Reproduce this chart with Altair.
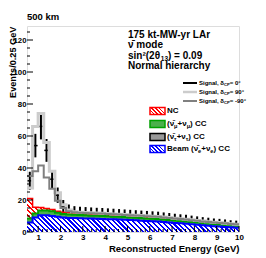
import math
import altair as alt
import pandas as pd

# ---------------- data ----------------
EDGES = [0.5 + 0.25 * i for i in range(39)]

beam_e = [6, 9, 10.5, 10.5, 10, 9.5, 9, 8.8, 8.7, 8.6, 8.5, 8.4, 8.3, 8.2, 8.0,
          7.9, 7.8, 7.6, 7.5, 7.3, 7.1, 6.9, 6.7, 6.5, 6.2, 6.0, 5.7, 5.4, 5.1, 4.8,
          4.5, 4.2, 3.9, 3.6, 3.4, 3.1, 2.9, 2.7]
tau_cc = [0, 0, 0, 0, 0, 0, 0.1, 0.1, 0.2, 0.2, 0.3, 0.3, 0.3, 0.4, 0.4, 0.4, 0.4,
          0.4, 0.4, 0.4, 0.4, 0.4, 0.4, 0.4, 0.4, 0.4, 0.35, 0.35, 0.35, 0.3, 0.3,
          0.3, 0.3, 0.25, 0.25, 0.25, 0.2, 0.2]
mu_cc = [2.5, 2.5, 3.0, 3.0, 3.0, 2.5, 2.2, 2.1, 1.9, 1.8, 1.6, 1.5, 1.5, 1.4, 1.4,
         1.3, 1.3, 1.3, 1.2, 1.2, 1.2, 1.2, 1.2, 1.2, 1.2, 1.1, 1.1, 1.1, 1.1, 1.1,
         1.1, 1.0, 1.0, 1.0, 1.0, 1.0, 1.0, 1.0]
nc = [12.5, 4.0, 1.8, 1.2, 1.0, 1.0, 1.0, 1.0, 1.0, 0.9, 0.9, 0.9, 0.9, 0.9, 0.9,
      0.9, 0.8, 0.8, 0.8, 0.8, 0.8, 0.8, 0.8, 0.8, 0.7, 0.7, 0.7, 0.7, 0.7, 0.7,
      0.6, 0.6, 0.6, 0.6, 0.6, 0.6, 0.5, 0.5]
sig_0 = [32, 54, 66, 51, 33, 23, 16, 13.5, 12.6, 12.3, 12.1, 11.9, 11.7, 11.6, 11.4,
         11.2, 11.0, 10.8, 10.6, 10.4, 10.2, 10.0, 9.8, 9.6, 9.2, 8.9, 8.5, 8.2, 7.9,
         7.5, 7.1, 6.7, 6.4, 6.0, 5.8, 5.5, 5.1, 4.9]
sig_p90 = [27.5, 66, 74, 56, 38, 24.5, 17, 13.8, 12.7, 12.4, 12.2, 12.0, 11.8, 11.7,
           11.5, 11.3, 11.1, 10.9, 10.7, 10.5, 10.3, 10.1, 9.9, 9.7, 9.3, 9.0, 8.6,
           8.3, 8.0, 7.6, 7.2, 6.8, 6.4, 6.1, 5.9, 5.5, 5.2, 4.9]
sig_m90 = [35, 38, 41.5, 34, 27, 19.5, 15, 13, 12.4, 12.1, 11.9, 11.7, 11.6, 11.5,
           11.3, 11.1, 10.9, 10.7, 10.5, 10.3, 10.1, 9.9, 9.7, 9.5, 9.1, 8.8, 8.4,
           8.1, 7.8, 7.4, 7.0, 6.6, 6.3, 5.9, 5.7, 5.4, 5.0, 4.8]

X_TICKS = list(range(1, 11))
Y_TICKS = [0, 20, 40, 60, 80, 100, 120]

# ---------------- geometry / style ----------------
W, H = 212, 206
YMAX = 128.75
YS = H / YMAX
FONT = "Liberation Sans"

nb = len(beam_e)
b1 = [beam_e[i] for i in range(nb)]
b2 = [b1[i] + tau_cc[i] for i in range(nb)]
b3 = [b2[i] + mu_cc[i] for i in range(nb)]
b4 = [b3[i] + nc[i] for i in range(nb)]

bins = pd.DataFrame({
    "lo": EDGES[:-1], "hi": EDGES[1:],
    "c": [(EDGES[i] + EDGES[i + 1]) / 2 for i in range(nb)],
    "n": sig_0,
    "elo": [v - math.sqrt(v) for v in sig_0],
    "ehi": [v + math.sqrt(v) for v in sig_0],
    "tl": [(EDGES[i] + EDGES[i + 1]) / 2 - 0.1 for i in range(nb)],
    "tr": [(EDGES[i] + EDGES[i + 1]) / 2 + 0.1 for i in range(nb)],
})

def ext(a):
    return list(a) + [a[-1]]

step = pd.DataFrame({
    "E": EDGES, "zero": [0.0] * 39,
    "b1": ext(b1), "b2": ext(b2), "b3": ext(b3), "b4": ext(b4),
    "p90": ext(sig_p90), "m90": ext(sig_m90),
})

xs = alt.Scale(domain=[0.5, 10], nice=False, zero=False)
ysc = alt.Scale(domain=[0, YMAX], nice=False, zero=True)

xaxis = alt.Axis(values=X_TICKS, grid=False, domain=False, ticks=False,
                 labelFont=FONT, labelFontWeight="bold", labelFontSize=8,
                 labelColor="black", labelPadding=1.5, labelFlush=False,
                 title="Reconstructed Energy (GeV)", titleFont=FONT,
                 titleFontWeight="bold", titleFontSize=9.6, titleColor="black",
                 titleAlign="right", titleAnchor="end", titleX=W, titleY=16,
                 titleBaseline="middle")
yaxis = alt.Axis(values=Y_TICKS, grid=False, domain=False, ticks=False,
                 labelFont=FONT, labelFontWeight="bold", labelFontSize=7.8,
                 labelColor="black", labelPadding=1, labelFlush=False,
                 title="Events/0.25 GeV", titleFont=FONT, titleFontWeight="bold",
                 titleFontSize=9.2, titleColor="black", titleAngle=-90,
                 titleAlign="right", titleBaseline="top", titleX=-19, titleY=0)

def X(f):
    return alt.X(f + ":Q", scale=xs, axis=xaxis)

def Y(f):
    return alt.Y(f + ":Q", scale=ysc, axis=yaxis)


def hatch(line, bg, wpx, hpx, period, frac):
    r = hpx / wpx
    dt = period * math.sqrt(2) / (wpx * (1 + r * r))
    stops = []
    k = 0
    while k * dt < 1:
        o0 = k * dt
        o1 = min(o0 + frac * dt, 1)
        o2 = min(o0 + dt, 1)
        stops += [(o0, line), (o1, line), (o1, bg), (o2, bg)]
        k += 1
    return {"gradient": "linear", "x1": 0, "y1": 1, "x2": 1, "y2": 1 - r,
            "stops": [{"offset": round(o, 5), "color": c} for o, c in stops]}

layers = []

# black signal points with errors (drawn first)
layers.append(alt.Chart(bins).mark_rule(color="black", strokeWidth=2).encode(
    x=X("c"), y=Y("elo"), y2="ehi"))
layers.append(alt.Chart(bins).mark_rule(color="black", strokeWidth=1.5).encode(
    x=X("tl"), x2="tr", y=Y("n")))

# stacked backgrounds
BLUE, RED, GREEN = "#0000ff", "#ff0000", "#00a000"
hb = max(b1) * YS
hr = (max(b4) - min(b3)) * YS
layers.append(alt.Chart(step).mark_area(
    interpolate="step-after", fill=hatch(RED, "white", W, hr, 3.6, 0.35)).encode(
    x=X("E"), y=Y("b4"), y2="b3"))
layers.append(alt.Chart(step).mark_area(
    interpolate="step-after", fill="#4cb04c").encode(
    x=X("E"), y=Y("b3"), y2="b2"))
layers.append(alt.Chart(step).mark_area(
    interpolate="step-after", fill="#999999").encode(
    x=X("E"), y=Y("b2"), y2="b1"))
layers.append(alt.Chart(step).mark_area(
    interpolate="step-after", fill=hatch(BLUE, "white", W, hb, 3.4, 0.45)).encode(
    x=X("E"), y=Y("b1"), y2="zero"))
for col, colr, sw in [("b4", RED, 1.5), ("b3", GREEN, 2), ("b1", BLUE, 2)]:
    layers.append(alt.Chart(step).mark_line(
        interpolate="step-after", color=colr, strokeWidth=sw).encode(
        x=X("E"), y=Y(col)))

# signal histograms
layers.append(alt.Chart(step).mark_line(
    interpolate="step-after", color="#cccccc", strokeWidth=3).encode(
    x=X("E"), y=Y("p90")))
layers.append(alt.Chart(step).mark_line(
    interpolate="step-after", color="#808080", strokeWidth=2).encode(
    x=X("E"), y=Y("m90")))

# inward ticks
xmaj = pd.DataFrame({"v": X_TICKS})
xmin = pd.DataFrame({"v": [round(0.6 + 0.2 * i, 2) for i in range(48)
                           if round(0.6 + 0.2 * i, 2) not in X_TICKS]})
ymaj = pd.DataFrame({"v": Y_TICKS})
ymin = pd.DataFrame({"v": [v for v in range(0, 129, 5) if v % 20]})
layers.append(alt.Chart(xmaj).mark_rule(color="black").encode(
    x=X("v"), y=alt.value(H), y2=alt.value(H - 6)))
layers.append(alt.Chart(xmin).mark_rule(color="black").encode(
    x=X("v"), y=alt.value(H), y2=alt.value(H - 3)))
layers.append(alt.Chart(ymaj).mark_rule(color="black").encode(
    y=Y("v"), x=alt.value(0), x2=alt.value(6)))
layers.append(alt.Chart(ymin).mark_rule(color="black").encode(
    y=Y("v"), x=alt.value(0), x2=alt.value(3)))

# ---------------- annotations ----------------
one = pd.DataFrame({"k": [0]})
CW = {" ": .278, "(": .333, ")": .333, "+": .584, "=": .584, ",": .278, ".": .278,
      "-": .333, "/": .278, "°": .4, "A": .722, "B": .722, "C": .722, "G": .778,
      "L": .611, "M": .833, "N": .722, "P": .667, "S": .667, "V": .667, "W": .944,
      "a": .556, "c": .556, "d": .611, "e": .556, "g": .611, "h": .611, "i": .278,
      "k": .556, "l": .278, "m": .889, "n": .611, "o": .611, "r": .389, "s": .556,
      "t": .333, "u": .611, "y": .556, "δ": .611, "ν": .556, "μ": .611, "τ": .45,
      "θ": .611, "²": .333, "\u0304": 0.0}

def tw(s, fs):
    return sum(CW.get(ch, .556) for ch in s) * fs

def text_run(segs, x0, y):
    x = x0
    out = []
    for s, fs, dy in segs:
        out.append(alt.Chart(one).mark_text(
            text=s, align="left", baseline="middle", font=FONT, fontWeight="bold",
            fontSize=fs, dy=dy, color="black").encode(x=alt.value(x), y=alt.value(y)))
        x += tw(s, fs)
    return out

OX, OY = 27, 26  # plot origin in page pixels

layers += text_run([("500 km", 9.5, 0)], 27 - OX, 17 - OY)
HF = 10
hx = 128 - OX
layers += text_run([("175 kt-MW-yr LAr", HF, 0)], hx, 35 - OY)
layers += text_run([("ν\u0304 mode", HF, 0)], hx, 45 - OY)
layers += text_run([("sin²(2θ", HF, 0), ("13", 6.5, 2.5), (") = 0.09", HF, 0)], hx, 56 - OY)
layers += text_run([("Normal hierarchy", HF, 0)], hx, 66 - OY)

# signal legend
SF = 6.0
sig_entries = [("0°", "black", 2, 83), ("90°", "#cccccc", 2.5, 92), ("-90°", "#808080", 2, 101)]
for lab, colr, sw, yy in sig_entries:
    layers.append(alt.Chart(one).mark_rule(color=colr, strokeWidth=sw).encode(
        x=alt.value(183 - OX), x2=alt.value(197 - OX), y=alt.value(yy - OY)))
    layers += text_run([("Signal, δ", SF, 0), ("CP", SF * 0.7, 1.8),
                        (" = " + lab, SF, 0)], 199 - OX, yy - OY)

# background legend
BF = 8.0
bx0, bx1 = 150 - OX, 165 - OX
bg_entries = [
    (111, hatch(RED, "white", 15, 7, 2.6, 0.4), RED,
     [("NC", BF, 0)]),
    (124, "#4cb04c", GREEN,
     [("(ν\u0304", BF, 0), ("μ", BF * .7, 2), ("+ν", BF, 0), ("μ", BF * .7, 2), (") CC", BF, 0)]),
    (137, "#999999", "black",
     [("(ν\u0304", BF, 0), ("τ", BF * .7, 2), ("+ν", BF, 0), ("τ", BF * .7, 2), (") CC", BF, 0)]),
    (149, hatch(BLUE, "white", 15, 7, 2.6, 0.45), BLUE,
     [("Beam (ν\u0304", BF, 0), ("e", BF * .7, 2), ("+ν", BF, 0), ("e", BF * .7, 2), (") CC", BF, 0)]),
]
for yy, fillv, strokec, segs in bg_entries:
    layers.append(alt.Chart(one).mark_rect(fill=fillv, stroke=strokec, strokeWidth=1.5).encode(
        x=alt.value(bx0), x2=alt.value(bx1), y=alt.value(yy - OY - 3.5), y2=alt.value(yy - OY + 3.5)))
    layers += text_run(segs, 167 - OX, yy - OY)

chart = alt.layer(*layers).properties(
    width=W, height=H,
    padding={"left": OX - 8, "top": OY - 8, "right": 10, "bottom": 24},
    autosize="none",
    background="white",
).configure_view(stroke="black", strokeWidth=1).configure(font=FONT)

chart.save("out.html", embed_options={"renderer": "svg", "actions": False})
